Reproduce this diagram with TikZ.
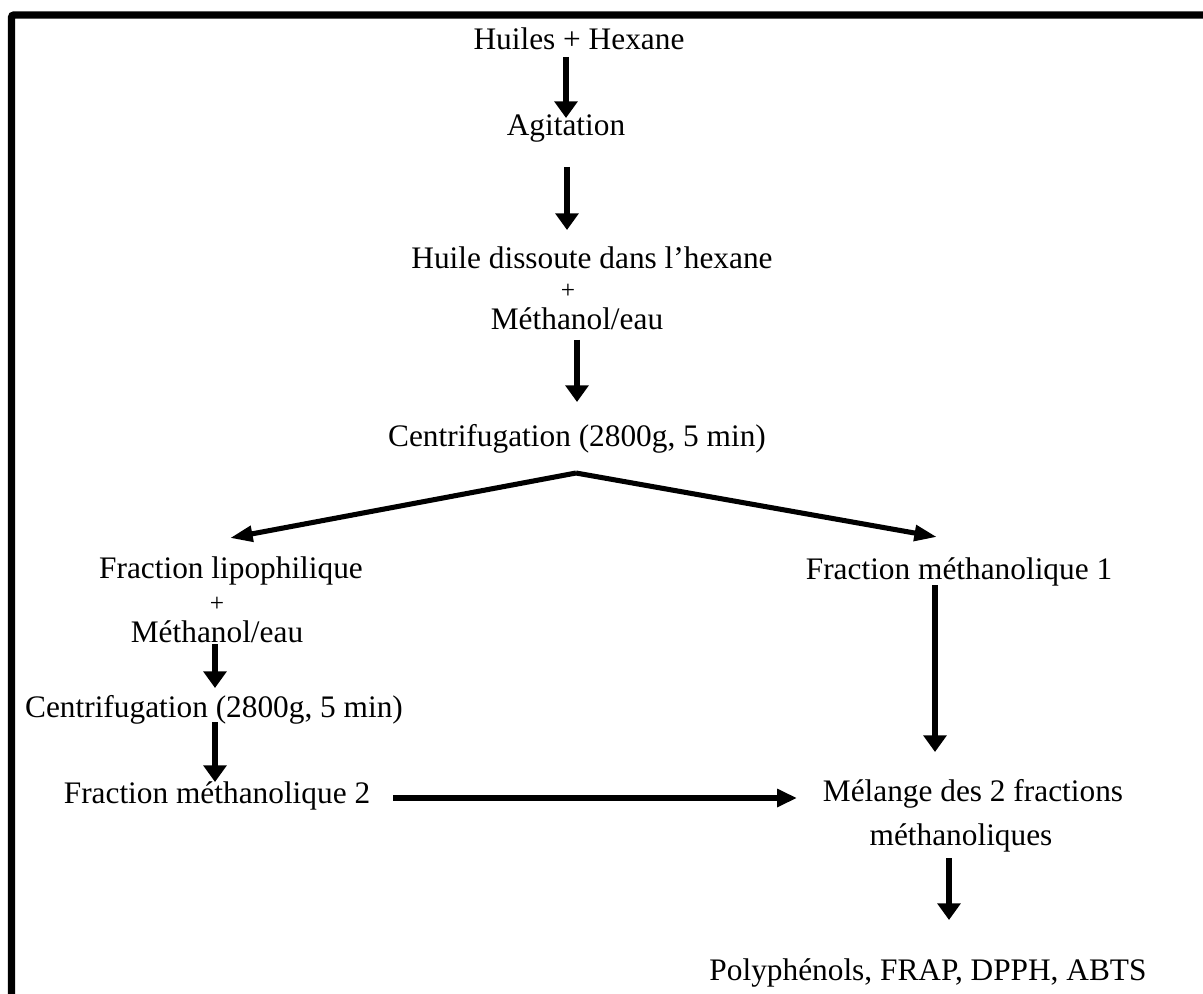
\documentclass[tikz,border=0pt]{standalone}
\usepackage{fontspec}
\setmainfont{Liberation Serif}
\usetikzlibrary{arrows.meta}
\begin{document}
\begin{tikzpicture}[x=0.75pt,y=-0.75pt,
  txt/.style={anchor=base,inner sep=0pt,font=\fontsize{23.5}{28}\selectfont},
  plus/.style={anchor=base,inner sep=0pt,font=\fontsize{19}{22}\selectfont,text height=0.55em,text depth=0pt},
  varrow/.style={line width=4.8pt,-{Triangle[length=12.5pt,width=17pt]}},
  darrow/.style={line width=3.8pt,-{Triangle[length=17pt,width=11.5pt]}},
  harrow/.style={line width=3.8pt,-{Triangle[length=15pt,width=13pt]}},
  frameline/.style={line width=5.6pt,rounded corners=2pt}]
\useasboundingbox (0,0) rectangle (1203,994);
\draw[frameline] (11.5,1005) -- (11.5,15) -- (1215,15);

% nodes
\node[txt] (n1) at (579,50) {Huiles + Hexane};
\node[txt] (n2) at (566,136) {Agitation};
\node[txt] (n3a) at (592,269) {Huile dissoute dans l’hexane};
\node[plus] (n3b) at (568,299) {+};
\node[txt] (n3c) at (577,330) {Méthanol/eau};
\node[txt] (n4) at (577,447) {Centrifugation (2800g, 5 min)};
\node[txt] (n5a) at (231,579) {Fraction lipophilique};
\node[plus] (n5b) at (217,611) {+};
\node[txt] (n5c) at (217,642) {Méthanol/eau};
\node[txt] (n6) at (214,717) {Centrifugation (2800g, 5 min)};
\node[txt] (n7) at (217,803) {Fraction méthanolique 2};
\node[txt] (n8) at (959,580) {Fraction méthanolique 1};
\node[txt] (n9a) at (973,801) {Mélange des 2 fractions};
\node[txt] (n9b) at (961,845) {méthanoliques};
\node[txt] (n10) at (928,980) {Polyphénols, FRAP, DPPH, ABTS};

% connector ends
\coordinate (a1s) at (566,57);   \coordinate (a1e) at (566,118);
\coordinate (a2s) at (567,167);  \coordinate (a2e) at (567,230);
\coordinate (a3s) at (577,340);  \coordinate (a3e) at (577,402);
\coordinate (apex) at (576,473);
\coordinate (dl) at (230,538);   \coordinate (dr) at (937,537);
\coordinate (a5s) at (215,644);  \coordinate (a5e) at (215,688);
\coordinate (a6s) at (215,722);  \coordinate (a6e) at (215,782);
\coordinate (hs) at (393,798);   \coordinate (he) at (797,798);
\coordinate (a8s) at (935,585);  \coordinate (a8e) at (935,752);
\coordinate (a9s) at (949,858);  \coordinate (a9e) at (949,920);

% connectors
\draw[varrow] (a1s) -- (a1e);
\draw[varrow] (a2s) -- (a2e);
\draw[varrow] (a3s) -- (a3e);
\draw[darrow] (apex) -- (dl);
\draw[darrow] (apex) -- (dr);
\draw[varrow] (a5s) -- (a5e);
\draw[varrow] (a6s) -- (a6e);
\draw[harrow] (hs) -- (he);
\draw[varrow] (a8s) -- (a8e);
\draw[varrow] (a9s) -- (a9e);
\end{tikzpicture}
\end{document}
